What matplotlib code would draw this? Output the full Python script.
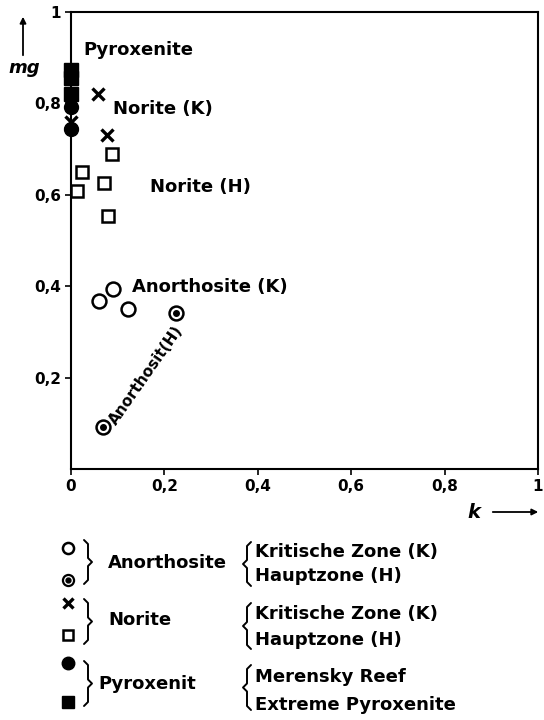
import matplotlib
matplotlib.use("Agg")
import matplotlib.pyplot as plt

plt.rcParams["font.family"] = ["DejaVu Sans"]

# data (k, mg)
anor_k_k = [0.060, 0.090, 0.122]
anor_k_mg = [0.368, 0.394, 0.350]
anor_h_k = [0.069, 0.225]
anor_h_mg = [0.092, 0.341]
nor_k_k = [0.058, 0.077, 0.0]
nor_k_mg = [0.820, 0.731, 0.760]
nor_h_k = [0.088, 0.024, 0.071, 0.013, 0.079]
nor_h_mg = [0.689, 0.650, 0.626, 0.608, 0.554]
mer_k = [0.0, 0.0]
mer_mg = [0.792, 0.745]
ext_k = [0.0, 0.0, 0.0]
ext_mg = [0.872, 0.855, 0.820]

xticks = [0, 0.2, 0.4, 0.6, 0.8, 1]
xticklabels = ["0", "0,2", "0,4", "0,6", "0,8", "1"]
yticks = [0.2, 0.4, 0.6, 0.8, 1]
yticklabels = ["0,2", "0,4", "0,6", "0,8", "1"]


def brace(ax, x, top, bot, side=1, w=4, lw=1.4):
    # side=1 -> "}", side=-1 -> "{"
    mid = (top + bot) / 2
    xs = [x - side * w, x, x, x + side * w, x, x, x - side * w]
    ys = [top, top + w, mid - w, mid, mid + w, bot - w, bot]
    ax.plot(xs, ys, color="black", lw=lw, solid_joinstyle="round", solid_capstyle="round")


fig = plt.figure(figsize=(5.44, 7.2), dpi=100)
ax = fig.add_axes([71 / 544, 1 - 469 / 720, 467 / 544, 457 / 720])
ax.set_xlim(0, 1)
ax.set_ylim(0, 1)
for s in ax.spines.values():
    s.set_linewidth(1.5)
ax.set_xticks(xticks)
ax.set_xticklabels(xticklabels, fontsize=11, fontweight="bold")
ax.set_yticks(yticks)
ax.set_yticklabels(yticklabels, fontsize=11, fontweight="bold")
ax.tick_params(direction="out", length=4, width=1.2, pad=3)

kw = dict(linestyle="none", clip_on=False, zorder=5)
ax.plot(anor_k_k, anor_k_mg, marker="o", ms=10, mfc="white", mec="black", mew=1.8, **kw)
ax.plot(anor_h_k, anor_h_mg, marker="o", ms=10, mfc="white", mec="black", mew=1.8, **kw)
ax.plot(anor_h_k, anor_h_mg, marker="o", ms=4, mfc="black", mec="black", **kw)
ax.plot(nor_k_k, nor_k_mg, marker="x", ms=8, mec="black", mew=2.4, **kw)
ax.plot(nor_h_k, nor_h_mg, marker="s", ms=9, mfc="white", mec="black", mew=1.8, **kw)
ax.plot(mer_k, mer_mg, marker="o", ms=10, mfc="black", mec="black", **kw)
ax.plot(ext_k, ext_mg, marker="s", ms=10, mfc="black", mec="black", **kw)

lab = dict(fontsize=13, fontweight="bold", va="center", ha="left")
ax.text(0.026, 0.917, "Pyroxenite", **lab)
ax.text(0.090, 0.788, "Norite (K)", **lab)
ax.text(0.169, 0.617, "Norite (H)", **lab)
ax.text(0.131, 0.398, "Anorthosite (K)", **lab)
ax.text(0.160, 0.206, "Anorthosit(H)", fontsize=11, fontweight="bold",
        ha="center", va="center", rotation=55, rotation_mode="anchor")

# overlay in pixel coordinates for axis names and the key
ov = fig.add_axes([0, 0, 1, 1])
ov.set_xlim(0, 544)
ov.set_ylim(720, 0)
ov.axis("off")

ov.annotate("", xy=(23, 14), xytext=(23, 58),
            arrowprops=dict(arrowstyle="-|>", lw=1.3, color="black", mutation_scale=9))
ov.text(24, 68, "mg", fontsize=13, fontweight="bold", style="italic", ha="center", va="center")
ov.text(474, 512, "k", fontsize=14, fontweight="bold", style="italic", ha="center", va="center")
ov.annotate("", xy=(541, 512), xytext=(490, 512),
            arrowprops=dict(arrowstyle="-|>", lw=1.3, color="black", mutation_scale=9))

mx = 68
lk = dict(linestyle="none", clip_on=False)
ov.plot([mx], [548], marker="o", ms=8, mfc="white", mec="black", mew=1.8, **lk)
ov.plot([mx], [580], marker="o", ms=8, mfc="white", mec="black", mew=1.6, **lk)
ov.plot([mx], [580], marker="o", ms=3.5, mfc="black", mec="black", **lk)
ov.plot([mx], [603], marker="x", ms=7, mec="black", mew=2.4, **lk)
ov.plot([mx], [635], marker="s", ms=7, mfc="white", mec="black", mew=1.8, **lk)
ov.plot([mx], [663], marker="o", ms=9, mfc="black", mec="black", **lk)
ov.plot([mx], [702], marker="s", ms=9, mfc="black", mec="black", **lk)

groups = [("Anorthosite", 563, 108, ("Kritische Zone (K)", "Hauptzone (H)"), 552, 576, (540, 584), (542, 586)),
          ("Norite", 620, 108, ("Kritische Zone (K)", "Hauptzone (H)"), 614, 640, (599, 644), (603, 649)),
          ("Pyroxenit", 684, 98, ("Merensky Reef", "Extreme Pyroxenite"), 677, 705, (661, 706), (665, 710))]
for name, yc, xn, sub, y1, y2, b1, b2 in groups:
    brace(ov, 88, b1[0], b1[1], side=1)
    ov.text(xn, yc, name, fontsize=13, fontweight="bold", ha="left", va="center")
    brace(ov, 247, b2[0], b2[1], side=-1)
    ov.text(255, y1, sub[0], fontsize=13, fontweight="bold", ha="left", va="center")
    ov.text(255, y2, sub[1], fontsize=13, fontweight="bold", ha="left", va="center")

fig.savefig("out.png", dpi=100)
